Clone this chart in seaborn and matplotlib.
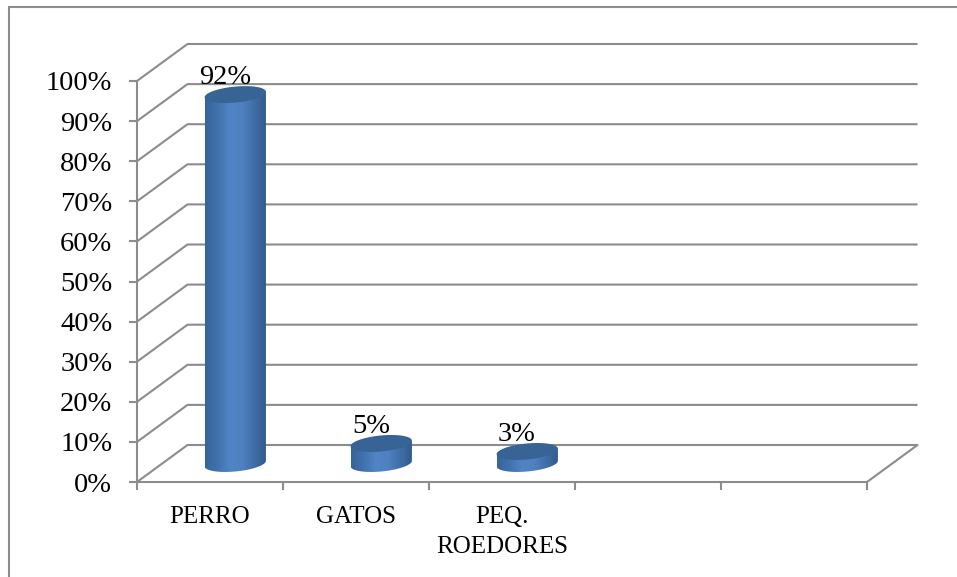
import numpy as np
import matplotlib
matplotlib.use("Agg")
import matplotlib.pyplot as plt
import seaborn as sns
from matplotlib.colors import LinearSegmentedColormap
from matplotlib.lines import Line2D
from matplotlib.patches import Polygon
from matplotlib.ticker import FuncFormatter

categories = ["PERRO", "GATOS", "PEQ.\nROEDORES"]
values = [92, 5, 3]
y_ticks = list(range(0, 101, 10))
n_slots = 5

W, H = 957, 577
LEFT, RIGHT, BOTTOM, TOP = 137, 867, 482, 81  # plot area in pixels
GRAY = "#8c8c8c"
LW = 1.5

sns.set_theme(style="white")
plt.rcParams["font.family"] = ["Liberation Serif", "DejaVu Serif"]

fig = plt.figure(figsize=(W / 100, H / 100), dpi=100, facecolor="white")
ax = fig.add_axes([LEFT / W, 1 - BOTTOM / H, (RIGHT - LEFT) / W, (BOTTOM - TOP) / H])

sns.barplot(x=categories, y=values, width=0.42, color="#4f81bd", ax=ax, zorder=3)
ax.set_xlim(-0.5, n_slots - 0.5)
ax.set_ylim(0, 100)

# pixels per data unit, used for the fake 3d depth
px_x = (RIGHT - LEFT) / n_slots
px_y = (BOTTOM - TOP) / 100
depth_x = 50.5 / px_x
depth_y = 37 / px_y

# walls: side wall and back wall gridlines
x0, x1 = ax.get_xlim()
for v in y_ticks:
    ax.plot([x0, x0 + depth_x, x1 + depth_x], [v, v + depth_y, v + depth_y],
            color=GRAY, lw=LW, clip_on=False, zorder=1, solid_capstyle="butt")
ax.plot([x1, x1 + depth_x], [0, depth_y], color=GRAY, lw=LW, clip_on=False, zorder=1)

# cylinders
grad = LinearSegmentedColormap.from_list(
    "cyl", ["#36639a", "#4272ac", "#5184c6", "#4f81c0", "#3f6ea6", "#30598a"])
t = np.linspace(0, 2 * np.pi, 121)
half_h = 8 / px_y
tilt = -5.5 / 61 * px_x / px_y  # ellipses lean up to the right

for patch, val in zip(ax.patches, values):
    patch.set_visible(False)
    cx = patch.get_x() + patch.get_width() / 2 + depth_x / 2
    a = patch.get_width() / 2
    base = depth_y / 2
    top = val + depth_y / 2

    ex = cx + a * np.cos(t)
    tilt_y = half_h * np.sin(t) - tilt * (ex - cx)
    top_pts = np.column_stack([ex, top + tilt_y])

    lower = t[:61] + np.pi  # lower half of the bottom ellipse, left to right
    bx = cx + a * np.cos(lower)
    by = base + half_h * np.sin(lower) - tilt * (bx - cx)
    body = np.vstack([
        [[cx - a, top + tilt * a]],
        np.column_stack([bx, by]),
        [[cx + a, top - tilt * a]],
    ])
    body_patch = Polygon(body, closed=True, facecolor="none", edgecolor="none",
                         transform=ax.transData, zorder=3)
    ax.add_patch(body_patch)
    im = ax.imshow(np.linspace(0, 1, 128).reshape(1, -1), cmap=grad, aspect="auto",
                   extent=[cx - a, cx + a, -5, 100], zorder=3)
    im.set_clip_path(body_patch)
    ax.add_patch(Polygon(top_pts, closed=True, facecolor="#376395", edgecolor="none", zorder=4))

    ax.annotate(f"{val}%", (cx, top), xytext=(-7.5, 3), textcoords="offset points",
                ha="center", va="bottom", fontsize=20.5, color="black", zorder=5,
                annotation_clip=False)

ax.set_xlim(x0, x1)
ax.set_ylim(0, 100)

for name in ["top", "right"]:
    ax.spines[name].set_visible(False)
for name in ["left", "bottom"]:
    ax.spines[name].set_color(GRAY)
    ax.spines[name].set_linewidth(LW)

ax.set_yticks(y_ticks)
ax.yaxis.set_major_formatter(FuncFormatter(lambda v, _: f"{v:.0f}%"))
ax.tick_params(axis="y", left=True, length=5.8, width=LW, color=GRAY, pad=12,
               labelsize=20.5, labelcolor="black")
ax.set_xticks(range(len(categories)), categories, linespacing=1.5)
ax.set_xticks(np.arange(n_slots + 1) - 0.5, minor=True)
ax.tick_params(axis="x", which="major", length=0, pad=17, labelsize=18, labelcolor="black")
ax.tick_params(axis="x", which="minor", bottom=True, length=5.8, width=LW, color=GRAY)
ax.set_xlabel("")
ax.set_ylabel("")

# chart frame, cut off by the right and bottom of the image
fx, fy = 8.5 / W, 1 - 6.5 / H
fig.add_artist(Line2D([fx, fx, 1], [0, fy, fy], color=GRAY, lw=LW,
                      solid_joinstyle="miter"))

fig.savefig("out.png", dpi=100)
